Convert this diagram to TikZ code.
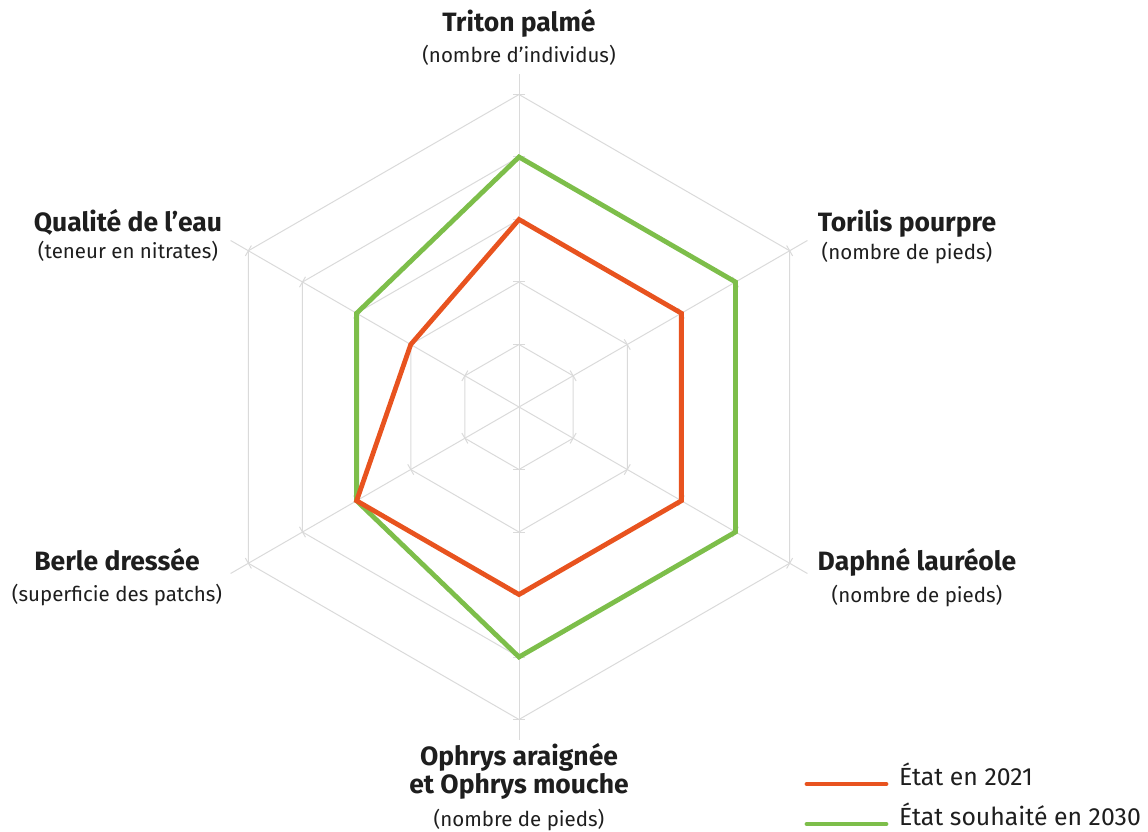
\documentclass[tikz,border=0pt]{standalone}
\usepackage{fontspec}
\setmainfont{Fira Sans}
\usetikzlibrary{calc}
\definecolor{orangeC}{HTML}{E8531F}
\definecolor{greenC}{HTML}{7DBE4A}
\definecolor{gridC}{HTML}{DADADA}
\definecolor{txtC}{HTML}{1E1E1E}
\begin{document}
\begin{tikzpicture}[x=1pt,y=1pt,
  gridline/.style={draw=gridC, line width=1pt},
  series/.style={line width=4.8pt, line join=miter},
  legline/.style={line width=4.8pt, line cap=round},
  title/.style={anchor=base, inner sep=0pt, text=txtC, font=\fontsize{26.5}{30}\selectfont\bfseries},
  sub/.style={anchor=base, inner sep=0pt, text=txtC, font=\fontsize{20.5}{24}\selectfont},
  legtext/.style={anchor=base west, inner sep=0pt, text=txtC, font=\fontsize{24.8}{29}\selectfont}]
\useasboundingbox (0,0) rectangle (1148,831);
\coordinate (c) at (519,424);
% axes
\foreach \a in {90,30,-30,-90,-150,150}
  \draw[gridline] (c) -- ++(\a:333);
% rings
\foreach \k in {1,...,5} {
  \pgfmathsetmacro{\r}{62.5*\k}
  \draw[gridline, shift={(c)}] (90:\r) -- (30:\r) -- (-30:\r) -- (-90:\r) -- (-150:\r) -- (150:\r) -- cycle;
  \foreach \a in {90,30,-30,-90,-150,150}
    \draw[gridline, shift={(c)}, rotate=\a] (\r,-6) -- (\r,6);
}
% series
\draw[series, draw=greenC, shift={(c)}] (90:250) -- (30:250) -- (-30:250) -- (-90:250) -- (-150:187.5) -- (150:187.5) -- cycle;
\draw[series, draw=orangeC, shift={(c)}] (90:187.5) -- (30:187.5) -- (-30:187.5) -- (-90:187.5) -- (-150:187.5) -- (150:125) -- cycle;
% labels
\node[title] (t1) at (519,799) {Triton palmé};
\node[sub] (s1) at (519,768) {(nombre d’individus)};
\node[title] (t2) at (907,599) {Torilis pourpre};
\node[sub] (s2) at (907,571) {(nombre de pieds)};
\node[title] (t3) at (917,261) {Daphné lauréole};
\node[sub] (s3) at (917,229) {(nombre de pieds)};
\node[title] (t4a) at (519,66) {Ophrys araignée};
\node[title] (t4b) at (519,38) {et Ophrys mouche};
\node[sub] (s4) at (519,5) {(nombre de pieds)};
\node[title] (t5) at (117,261) {Berle dressée};
\node[sub] (s5) at (117,230) {(superficie des patchs)};
\node[title] (t6) at (128,599) {Qualité de l’eau};
\node[sub] (s6) at (128,572) {(teneur en nitrates)};
% legend
\coordinate (l1a) at (807,47); \coordinate (l1b) at (886,47);
\coordinate (l2a) at (807,7);  \coordinate (l2b) at (886,7);
\draw[legline, draw=orangeC] (l1a) -- (l1b);
\draw[legline, draw=greenC] (l2a) -- (l2b);
\node[legtext] (lt1) at (899,46) {État en 2021};
\node[legtext] (lt2) at (899,6) {État souhaité en 2030};
\end{tikzpicture}
\end{document}
